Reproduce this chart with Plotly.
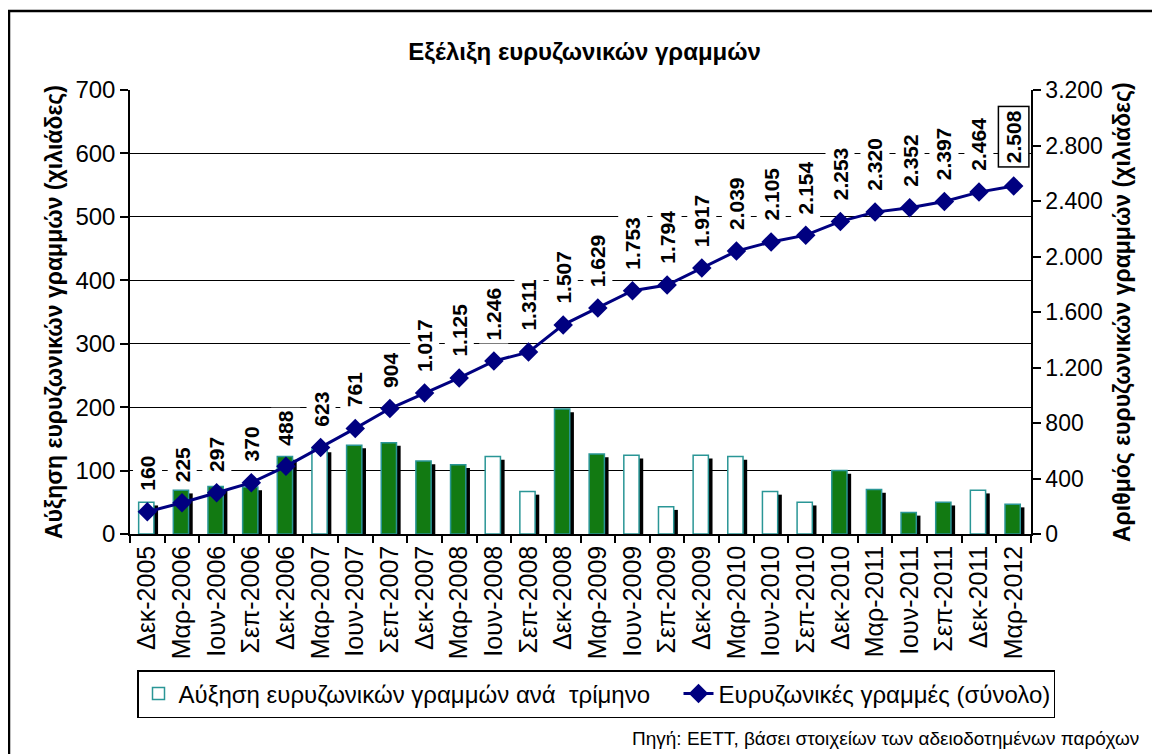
import plotly.graph_objects as go

# quarters
quarters = ['Δεκ-2005', 'Μαρ-2006', 'Ιουν-2006', 'Σεπ-2006', 'Δεκ-2006', 'Μαρ-2007',
            'Ιουν-2007', 'Σεπ-2007', 'Δεκ-2007', 'Μαρ-2008', 'Ιουν-2008', 'Σεπ-2008',
            'Δεκ-2008', 'Μαρ-2009', 'Ιουν-2009', 'Σεπ-2009', 'Δεκ-2009', 'Μαρ-2010',
            'Ιουν-2010', 'Σεπ-2010', 'Δεκ-2010', 'Μαρ-2011', 'Ιουν-2011', 'Σεπ-2011',
            'Δεκ-2011', 'Μαρ-2012']

# quarterly increase (thousands) - left axis
increase = [50, 69, 75, 74, 122, 134, 140, 144, 115, 109, 122, 67, 197,
            126, 124, 43, 124, 122, 67, 50, 100, 70, 34, 50, 69, 47]

# total lines (thousands) - right axis
total = [160, 225, 297, 370, 488, 623, 761, 904, 1017, 1125, 1246, 1311, 1507,
         1629, 1753, 1794, 1917, 2039, 2105, 2154, 2253, 2320, 2352, 2397, 2464, 2508]

# which bars are drawn solid green (the rest are hollow)
solid = [0, 1, 1, 1, 1, 0, 1, 1, 1, 1, 0, 0, 1,
         1, 0, 0, 0, 0, 0, 0, 1, 1, 1, 1, 0, 1]

GREEN = '#127a12'
TEAL = '#2a9696'
NAVY = '#000080'
FONT = 'Arial, Liberation Sans, sans-serif'

# page has an 8px body margin, so work in page pixels and shift
OFF = 8
W, H = 1160 - OFF, 754 - OFF
PL, PR, PT, PB = 130, 1031, 90, 534   # plot area in page pixels
L, R, T, B = PL - OFF, W - (PR - OFF), PT - OFF, H - (PB - OFF)
pw = PR - PL
ph = PB - PT


def px_x(x):
    return (x - PL) / pw


def px_y(y):
    return (PB - y) / ph


fig = go.Figure()

# drop shadow behind bars
fig.add_trace(go.Bar(
    x=quarters, y=increase, base=-5,
    width=0.44, offset=-0.13,
    marker=dict(color='black', line=dict(width=0)),
    showlegend=False, hoverinfo='skip', cliponaxis=True,
))

fig.add_trace(go.Bar(
    x=quarters, y=increase,
    width=0.44, offset=-0.25,
    name='Αύξηση ευρυζωνικών γραμμών ανά \u00a0τρίμηνο',
    legendwidth=495,
    marker=dict(color=[GREEN if s else 'white' for s in solid],
                line=dict(color=TEAL, width=1.5)),
))

fig.add_trace(go.Scatter(
    x=quarters, y=total, yaxis='y2',
    mode='lines+markers',
    name='Ευρυζωνικές γραμμές (σύνολο)',
    legendwidth=330,
    line=dict(color=NAVY, width=3),
    marker=dict(symbol='diamond', size=15, color=NAVY),
))

# value labels above the line
for q, v in zip(quarters, total):
    last = q == quarters[-1]
    fig.add_annotation(
        x=q, y=v, xref='x', yref='y2',
        text='<b>' + f'{v:,}'.replace(',', '.') + '</b>',
        textangle=-90, showarrow=False,
        yanchor='bottom', yshift=18,
        bgcolor='white', borderpad=3,
        bordercolor='black' if last else 'rgba(0,0,0,0)',
        borderwidth=1.5 if last else 0,
        font=dict(size=21, color='black', family=FONT),
    )

# axis titles
fig.add_annotation(
    x=px_x(39), y=0.5, xref='paper', yref='paper',
    text='<b>Αύξηση ευρυζωνικών γραμμών (χιλιάδες)</b>',
    textangle=-90, showarrow=False,
    font=dict(size=23, color='black', family=FONT),
)
fig.add_annotation(
    x=px_x(1137), y=0.5, xref='paper', yref='paper',
    text='<b>Αριθμός ευρυζωνικών γραμμών (χιλιάδες)</b>',
    textangle=-90, showarrow=False,
    font=dict(size=23, color='black', family=FONT),
)

# source note
fig.add_annotation(
    x=px_x(1141), y=px_y(738), xref='paper', yref='paper',
    xanchor='right', yanchor='middle',
    text='Πηγή: ΕΕΤΤ, βάσει στοιχείων των αδειοδοτημένων παρόχων',
    showarrow=False,
    font=dict(size=19, color='black', family=FONT),
)

# outer frame (top and left edges visible)
fig.add_shape(type='line', xref='paper', yref='paper',
              x0=px_x(8), x1=px_x(1200), y0=px_y(11), y1=px_y(11),
              line=dict(color='black', width=2.5))
fig.add_shape(type='line', xref='paper', yref='paper',
              x0=px_x(9), x1=px_x(9), y0=px_y(10), y1=px_y(800),
              line=dict(color='black', width=2.5))

fig.update_layout(
    width=W, height=H,
    margin=dict(l=L, r=R, t=T, b=B, autoexpand=False),
    paper_bgcolor='white', plot_bgcolor='white',
    separators=',.',
    barmode='overlay',
    font=dict(family=FONT, size=22, color='black'),
    title=dict(text='<b>Εξέλιξη ευρυζωνικών γραμμών</b>',
               x=px_x(581), xanchor='center', y=1 - (52 - OFF) / H, yanchor='middle',
               font=dict(size=24, family=FONT, color='black')),
    xaxis=dict(
        type='category', tickangle=-90, tickson='boundaries',
        ticks='outside', ticklen=7, tickcolor='black', tickwidth=1.5,
        showline=True, linecolor='black', linewidth=1.5,
        showgrid=False, tickfont=dict(size=25), automargin=False,
        range=[-0.5, len(quarters) - 0.5],
    ),
    yaxis=dict(
        range=[0, 700], dtick=100,
        ticks='outside', ticklen=8, tickcolor='black', tickwidth=1.5,
        showline=True, linecolor='black', linewidth=1.5,
        showgrid=True, gridcolor='black', gridwidth=1.2,
        zeroline=False, tickfont=dict(size=24), automargin=False,
    ),
    yaxis2=dict(
        overlaying='y', side='right',
        range=[0, 3200], dtick=400, tickformat=',d',
        ticks='outside', ticklen=8, tickcolor='black', tickwidth=1.5,
        showline=True, linecolor='black', linewidth=1.5,
        showgrid=False, zeroline=False, tickfont=dict(size=23), automargin=False,
    ),
    legend=dict(
        orientation='h', x=px_x(1055), xanchor='right',
        y=px_y(670), yanchor='top',
        bordercolor='black', borderwidth=1.5,
        font=dict(size=24),
        traceorder='normal',
    ),
)

fig.write_html('out.html')
